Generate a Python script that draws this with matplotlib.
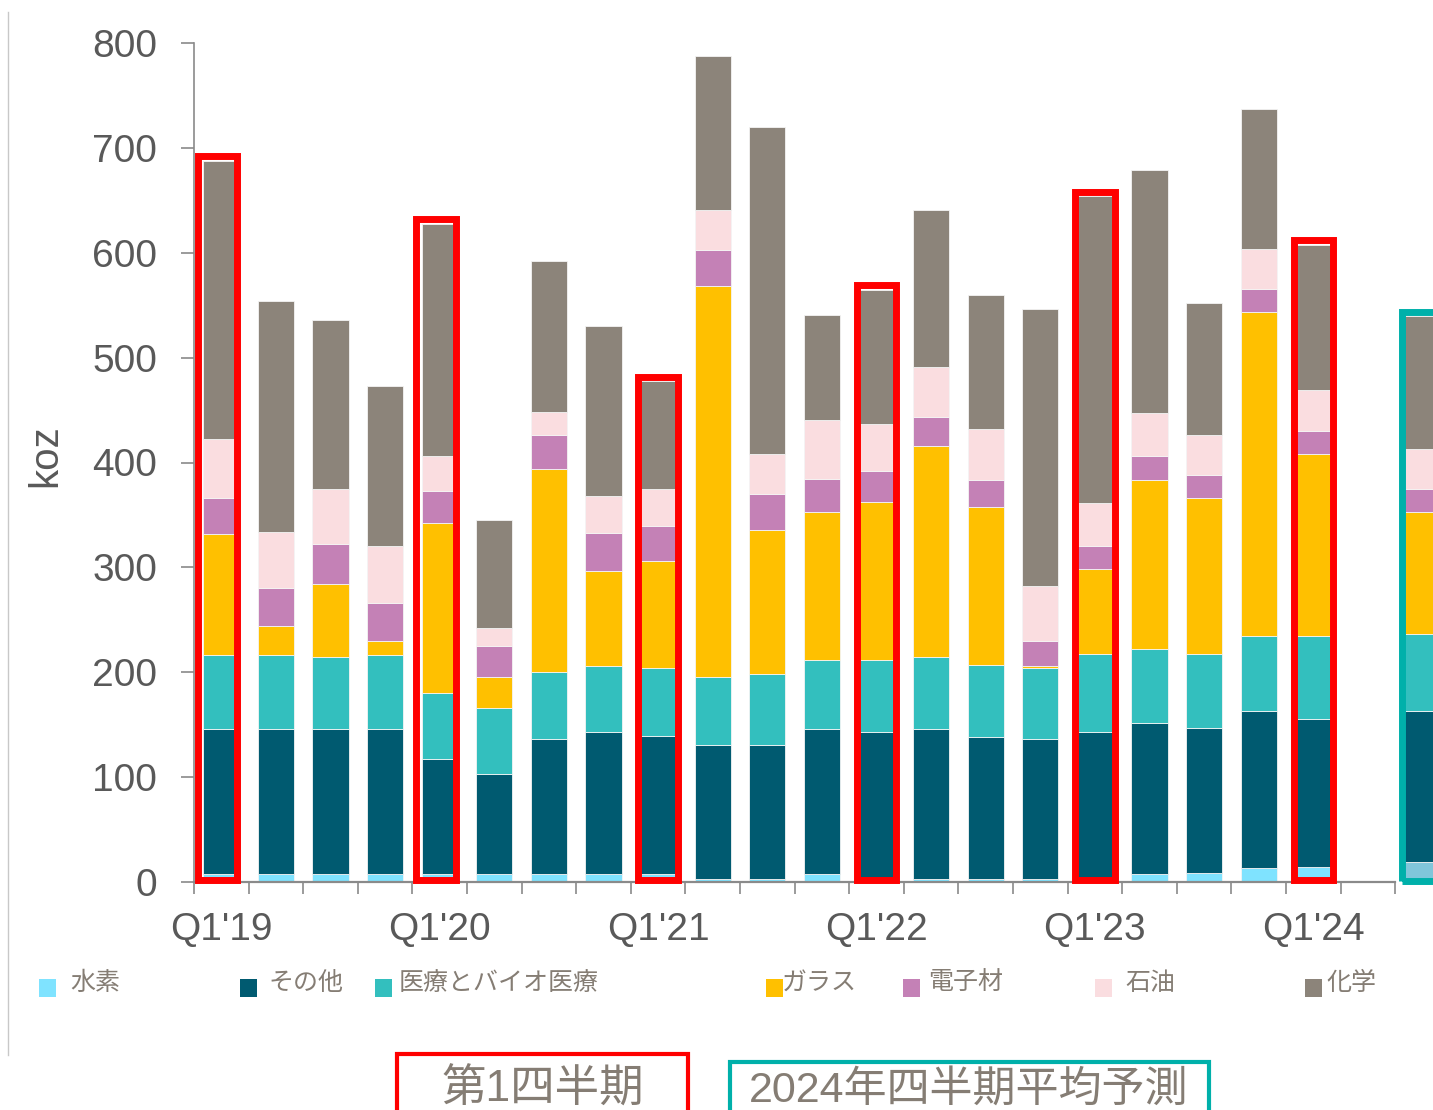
import numpy as np
import matplotlib.pyplot as plt
from matplotlib.patches import Rectangle
from matplotlib.lines import Line2D

plt.rcParams['font.family'] = ['Liberation Sans', 'Noto Sans CJK JP']

# quarters Q1'19 .. Q1'24
quarters = ["Q%d'%d" % (q, y) for y in range(19, 25) for q in range(1, 5)][:21]

# segment values (koz), bottom to top
hydrogen = [7, 7, 7, 7, 7, 7, 7, 7, 7, 3, 3, 7, 3, 3, 3, 3, 3, 7, 8, 13, 14]
other = [139, 139, 139, 139, 110, 96, 129, 136, 132, 127, 127, 139, 140, 143, 135, 133, 140, 144, 139, 150, 141]
medical = [70, 70, 68, 70, 63, 63, 64, 63, 65, 65, 68, 66, 69, 68, 69, 68, 74, 71, 70, 71, 79]
glass = [116, 28, 70, 14, 162, 29, 194, 90, 102, 373, 138, 141, 150, 202, 151, 1.5, 81, 161, 149, 310, 174]
electrical = [34, 36, 38, 36, 31, 30, 32, 37, 33, 35, 34, 31, 30, 27, 25, 24, 22, 23, 22, 22, 22]
petroleum = [56, 54, 53, 54, 33, 17, 22, 35, 36, 38, 38, 57, 45, 48, 49, 53, 41, 41, 38, 38, 39]
chemical = [266, 220, 161, 153, 222, 103, 144, 162, 103, 147, 312, 100, 128, 150, 128, 264, 293, 232, 126, 133, 139]

# 2024 quarterly average forecast, same order
forecast = [19, 144, 73, 117, 22, 38, 127]

names = ['水素', 'その他', '医療とバイオ医療', 'ガラス', '電子材', '石油', '化学']
colors = ['#7FE3FF', '#005A70', '#33BFBE', '#FFC000', '#C481B6', '#FADDE0', '#8C847A']
forecast_colors = ['#80C6DA'] + colors[1:]

W, H = 1433, 1110
fig = plt.figure(figsize=(W / 100, H / 100), dpi=100)
ax = fig.add_axes([194 / W, 228.3 / H, (W - 194) / W, 838.4 / H])

series = [hydrogen, other, medical, glass, electrical, petroleum, chemical]
x = np.arange(len(quarters)) + 0.5
bottom = np.zeros(len(quarters))
for vals, c in zip(series, colors):
    ax.bar(x, vals, width=0.66, bottom=bottom, color=c, edgecolor='#f4f4f4', linewidth=0.6, zorder=2)
    bottom += np.array(vals)
totals = bottom.copy()

fx = len(quarters) + 1.5
fb = 0
for v, c in zip(forecast, forecast_colors):
    ax.bar(fx, v, width=0.66, bottom=fb, color=c, edgecolor='#f4f4f4', linewidth=0.6, zorder=2)
    fb += v

# red boxes around Q1 bars
for i, q in enumerate(quarters):
    if q.startswith('Q1'):
        shift = -0.07 if i < 5 else 0
        ax.add_patch(Rectangle((x[i] - 0.36 + shift, 2), 0.72, totals[i] + 2, fill=False,
                               edgecolor='#FF0000', linewidth=5, zorder=3, clip_on=False))
# teal box around the forecast
ax.add_patch(Rectangle((fx - 0.37, 1), 1.5, fb + 3, fill=False,
                       edgecolor='#00B0AA', linewidth=5, zorder=3, clip_on=False))

ax.set_xlim(0, (W - 194) / 54.6)
ax.set_ylim(0, 800)
for s in ['top', 'right']:
    ax.spines[s].set_visible(False)
ax.spines['left'].set_color('#8a8a8a')
ax.spines['left'].set_linewidth(1.2)
ax.spines['bottom'].set_color('#8a8a8a')
ax.spines['bottom'].set_linewidth(1.6)
ax.spines['bottom'].set_bounds(0, 22)

ax.set_yticks(range(0, 801, 100))
ax.tick_params(axis='y', length=9.4, width=1.2, color='#8a8a8a', labelsize=28,
               labelcolor='#595959', pad=17)

label_idx = [i for i, q in enumerate(quarters) if q.startswith('Q1')]
ax.set_xticks(x[label_idx])
ax.set_xticklabels([quarters[i] for i in label_idx])
ax.set_xticks(np.arange(0, 23), minor=True)
ax.tick_params(axis='x', which='major', length=0, labelsize=28, labelcolor='#595959', pad=22)
ax.tick_params(axis='x', which='minor', length=8.6, width=1.2, color='#8a8a8a')

fig.text(45 / W, 1 - 456 / H, 'koz', rotation=90, ha='center', va='center',
         fontsize=29, color='#595959')

# legend, placed by hand
legend_sq = [39, 240, 375, 766, 903, 1095, 1305]
legend_tx = [70, 268, 399, 782, 928, 1125, 1326]
for name, c, sx, tx in zip(names, colors, legend_sq, legend_tx):
    fig.patches.append(Rectangle((sx / W, 1 - 997 / H), 17 / W, 18 / H, transform=fig.transFigure,
                                 facecolor=c, edgecolor='none'))
    fig.text(tx / W, 1 - 983 / H, name, ha='left', va='center', fontsize=18, color='#857d74')

# bottom key boxes
fig.patches.append(Rectangle((397 / W, -0.01), 291 / W, 1 - 1054 / H + 0.01, transform=fig.transFigure,
                             fill=False, edgecolor='#FF0000', linewidth=3))
fig.text(543 / W, 1 - 1089 / H, '第1四半期', ha='center', va='center', fontsize=32, color='#857d74')
fig.patches.append(Rectangle((730 / W, -0.01), 479 / W, 1 - 1062 / H + 0.01, transform=fig.transFigure,
                             fill=False, edgecolor='#00B0AA', linewidth=3))
fig.text(969 / W, 1 - 1091 / H, '2024年四半期平均予測', ha='center', va='center', fontsize=31, color='#857d74')

# thin frame line on the left
fig.lines.append(Line2D([8 / W, 8 / W], [1 - 12 / H, 1 - 1055 / H], transform=fig.transFigure,
                        color='#c8c8c8', linewidth=1))

fig.savefig('out.png', dpi=100)
